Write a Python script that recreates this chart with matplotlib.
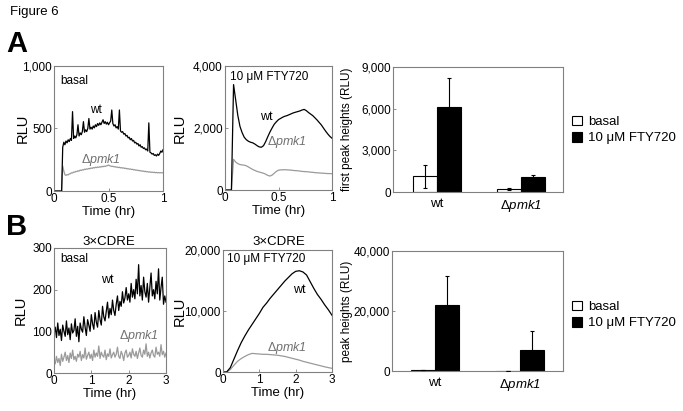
import numpy as np
import matplotlib
matplotlib.use("Agg")
import matplotlib.pyplot as plt
from matplotlib.ticker import FuncFormatter

plt.rcParams['font.family'] = ['Liberation Sans', 'DejaVu Sans']
plt.rcParams['mathtext.fontset'] = 'custom'
plt.rcParams['mathtext.rm'] = 'Liberation Sans'
plt.rcParams['mathtext.it'] = 'Liberation Sans:italic'
plt.rcParams['mathtext.sf'] = 'Liberation Sans:italic'
plt.rcParams['mathtext.default'] = 'regular'

# ---------------- data ----------------
# Panel A basal: time (hr), 0..1 step 0.01
t_a1 = [round(i * 0.01, 2) for i in range(101)]
a_basal_wt = [0, 0, 0, 0, 0, 0, 0, 0, 350, 390,
              370, 400, 385, 410, 395, 420, 405, 635, 420, 440,
              425, 450, 530, 440, 465, 450, 475, 555, 470, 490,
              475, 500, 580, 495, 510, 495, 520, 505, 530, 515,
              540, 525, 545, 530, 550, 570, 540, 555, 535, 550,
              530, 545, 560, 648, 540, 520, 530, 505, 515, 495,
              648, 480, 470, 475, 455, 460, 440, 445, 425, 430,
              410, 420, 400, 405, 385, 390, 375, 380, 360, 370,
              350, 355, 340, 345, 330, 335, 320, 545, 310, 305,
              295, 300, 285, 290, 280, 295, 285, 300, 320, 310,
              330]
a_basal_pmk1 = [0, 0, 0, 0, 0, 0, 0, 0, 200, 160,
                130, 125, 131, 129, 137, 138, 146, 144, 152, 150,
                157, 155, 162, 159, 167, 164, 170, 168, 175, 172,
                177, 175, 181, 178, 184, 181, 187, 184, 190, 187,
                192, 189, 194, 191, 197, 194, 199, 196, 201, 203,
                208, 202, 200, 196, 198, 193, 195, 190, 192, 187,
                190, 185, 187, 183, 185, 180, 182, 177, 179, 175,
                176, 172, 174, 169, 171, 166, 168, 163, 165, 161,
                162, 158, 160, 155, 158, 153, 155, 151, 153, 149,
                151, 148, 150, 146, 149, 145, 148, 145, 147, 145,
                147]

# Panel A FTY720: time 0..1 step 0.02
t_a2 = [round(i * 0.02, 2) for i in range(51)]
a_fty_wt = [0, 0, 0, 0, 3400, 2900, 2400, 2050, 1850, 1700, 1620, 1570, 1540, 1520, 1480, 1430, 1390, 1380, 1430, 1560,
            1720, 1870, 2000, 2120, 2200, 2270, 2310, 2350, 2380, 2400, 2430, 2460, 2490, 2510, 2530, 2550, 2580, 2600, 2560, 2500,
            2450, 2400, 2330, 2260, 2180, 2100, 2000, 1900, 1810, 1730, 1670]
a_fty_pmk1 = [0, 0, 0, 0, 990, 900, 850, 820, 810, 800, 780, 740, 700, 660, 630, 600, 580, 560, 540, 510,
              470, 450, 480, 540, 600, 640, 650, 650, 655, 650, 645, 640, 630, 625, 620, 610, 600, 595, 590, 585,
              575, 570, 560, 555, 550, 545, 540, 535, 530, 530, 525]

# Panel B basal: time 0..3 step 1/30
t_b1 = [i / 30 for i in range(91)]
b_basal_wt = [95, 110, 85, 120, 90, 105, 78, 115, 100, 88, 125, 92, 108, 80, 118, 96, 102, 130, 88, 112,
              75, 120, 105, 98, 135, 110, 90, 128, 115, 100, 140, 118, 105, 145, 122, 110, 150, 128, 115, 160,
              135, 125, 148, 170, 132, 155, 140, 175, 150, 138, 165, 185, 150, 172, 160, 195, 168, 180, 205, 175,
              190, 170, 215, 182, 200, 178, 225, 190, 260, 185, 210, 175, 230, 195, 182, 215, 170, 205, 240, 185,
              200, 178, 220, 190, 250, 175, 205, 230, 165, 185, 170]
b_basal_pmk1 = [30, 22, 40, 25, 35, 18, 45, 28, 38, 50, 30, 42, 25, 48, 35, 55, 32, 40, 28, 45,
                38, 52, 30, 44, 36, 60, 33, 42, 50, 35, 45, 30, 55, 38, 48, 40, 65, 35, 50, 42,
                38, 55, 32, 46, 40, 58, 36, 44, 50, 38, 45, 62, 40, 35, 52, 44, 30, 48, 55, 38,
                42, 50, 36, 58, 45, 40, 52, 35, 48, 60, 42, 38, 55, 45, 70, 40, 50, 36, 48, 55,
                42, 38, 62, 45, 50, 40, 68, 44, 52, 38, 48]

# Panel B FTY720: time 0..3 step 0.1
t_b2 = [round(i * 0.1, 1) for i in range(31)]
b_fty_wt = [0, 0, 700, 2100, 3500, 4800, 5900, 6900, 7800, 8700, 9600, 10600, 11300, 12100, 12800, 13500,
            14200, 14900, 15500, 16100, 16500, 16600, 16400, 15900, 14800, 13700, 12700, 11900, 11000, 10200, 9300]
b_fty_pmk1 = [0, 0, 400, 1100, 1750, 2200, 2550, 2850, 3050, 3000, 2950, 2900, 2900, 2850, 2800, 2750,
              2650, 2550, 2400, 2250, 2100, 1950, 1750, 1600, 1450, 1300, 1150, 1000, 850, 720, 600]

# bar panels
strains = ['wt', r'$\Delta\mathsf{pmk1}$']
a_bar_basal = [1120, 220]
a_bar_basal_err = [800, 60]
a_bar_fty = [6130, 1080]
a_bar_fty_err = [2070, 120]
b_bar_basal = [300, 100]
b_bar_basal_err = [100, 30]
b_bar_fty = [22000, 7100]
b_bar_fty_err = [9800, 6200]

PMK = r'$\Delta\mathsf{pmk1}$'

# ---------------- layout ----------------
W, H = 683, 411
fig = plt.figure(figsize=(W / 100, H / 100), dpi=100)
GRAY = '#808080'
LGRAY = '#9a9a9a'


def add_ax(x0, y0, x1, y1):
    return fig.add_axes([x0 / W, 1 - y1 / H, (x1 - x0) / W, (y1 - y0) / H])


def comma(v, p):
    if float(v).is_integer():
        return f"{int(v):,}"
    return f"{v:g}"


def style(ax):
    for s in ax.spines.values():
        s.set_color(GRAY)
        s.set_linewidth(0.8)
    ax.tick_params(direction='in', length=2, width=0.6, color=GRAY, labelsize=8.5, pad=1.5)
    ax.yaxis.set_major_formatter(FuncFormatter(comma))
    ax.xaxis.set_major_formatter(FuncFormatter(comma))


def ts_panel(ax, t, wt, pmk, xmax, ymax, yticks, xticks, ylx):
    ax.plot(t, pmk, color=LGRAY, lw=0.9)
    ax.plot(t, wt, color='black', lw=0.9)
    ax.set_xlim(0, xmax)
    ax.set_ylim(0, ymax)
    ax.set_xticks(xticks)
    ax.set_yticks(yticks)
    style(ax)
    ax.set_ylabel('RLU', fontsize=10.5)
    ax.yaxis.set_label_coords(ylx, 0.5)
    ax.set_xlabel('Time (hr)', fontsize=9.5, labelpad=1)


# A1
ax = add_ax(54, 66, 163, 191)
ts_panel(ax, t_a1, a_basal_wt, a_basal_pmk1, 1, 1000, [0, 500, 1000], [0, 0.5, 1], -0.22)
ax.text(0.055, 0.93, 'basal', transform=ax.transAxes, fontsize=8.5, va='top', ha='left')
ax.text(0.38, 0.65, 'wt', transform=ax.transAxes, fontsize=8.5, va='center', ha='center')
ax.text(0.43, 0.25, PMK, transform=ax.transAxes, fontsize=9, va='center', ha='center', color='#707070')

# A2
ax = add_ax(225, 66, 332, 190)
ts_panel(ax, t_a2, a_fty_wt, a_fty_pmk1, 1, 4000, [0, 2000, 4000], [0, 0.5, 1], -0.355)
ax.text(0.045, 0.96, '10 μM FTY720', transform=ax.transAxes, fontsize=8.5, va='top', ha='left')
ax.text(0.39, 0.59, 'wt', transform=ax.transAxes, fontsize=9, va='center', ha='center')
ax.text(0.58, 0.39, PMK, transform=ax.transAxes, fontsize=9, va='center', ha='center', color='#707070')

# B1
ax = add_ax(54, 248, 166, 373)
ts_panel(ax, t_b1, b_basal_wt, b_basal_pmk1, 3, 300, [0, 100, 200, 300], [0, 1, 2, 3], -0.232)
ax.text(0.055, 0.96, 'basal', transform=ax.transAxes, fontsize=8.5, va='top', ha='left')
ax.text(0.48, 0.745, 'wt', transform=ax.transAxes, fontsize=9, va='center', ha='center')
ax.text(0.76, 0.30, PMK, transform=ax.transAxes, fontsize=9, va='center', ha='center', color='#707070')

# B2
ax = add_ax(223, 250, 332, 372)
ts_panel(ax, t_b2, b_fty_wt, b_fty_pmk1, 3, 20000, [0, 10000, 20000], [0, 1, 2, 3], -0.33)
ax.text(0.04, 0.975, '10 μM FTY720', transform=ax.transAxes, fontsize=8.5, va='top', ha='left')
ax.text(0.70, 0.67, 'wt', transform=ax.transAxes, fontsize=9, va='center', ha='center')
ax.text(0.59, 0.20, PMK, transform=ax.transAxes, fontsize=9, va='center', ha='center', color='#707070')


def bar_panel(box, basal, basal_err, fty, fty_err, ymax, yticks, xlim, ylabel, ylx, leg_y):
    ax = add_ax(*box)
    x = np.arange(len(strains))
    w = 0.287
    b1 = ax.bar(x - w / 2, basal, w, color='white', edgecolor='black', lw=0.8, label='basal')
    b2 = ax.bar(x + w / 2, fty, w, color='black', edgecolor='black', lw=0.8, label='10 μM FTY720')
    ax.errorbar(x - w / 2, basal, yerr=basal_err, fmt='none', ecolor='black', elinewidth=0.8, capsize=1.5, capthick=0.8, zorder=5)
    ax.errorbar(x + w / 2, fty, yerr=fty_err, fmt='none', ecolor='black', elinewidth=0.8, capsize=1.5, capthick=0.8, zorder=5)
    ax.set_xlim(*xlim)
    ax.set_ylim(0, ymax)
    ax.set_yticks(yticks)
    ax.set_xticks(x)
    style(ax)
    ax.set_xticklabels(strains, fontsize=9.5)
    ax.tick_params(axis='x', length=0, pad=4)
    ax.set_ylabel(ylabel, fontsize=8.5)
    ax.yaxis.set_label_coords(ylx, 0.5)
    fig.legend(handles=[b1, b2], labels=['basal', '10 μM FTY720'], loc='center left',
               bbox_to_anchor=(572 / W, 1 - leg_y / H), frameon=False, fontsize=9.5,
               handlelength=0.75, handleheight=0.75, handletextpad=0.5, labelspacing=0.3,
               borderpad=0, borderaxespad=0)
    return ax


bar_panel((393, 67, 563, 192), a_bar_basal, a_bar_basal_err, a_bar_fty, a_bar_fty_err,
          9000, [0, 3000, 6000, 9000], (-0.524, 1.5), 'first peak heights (RLU)', -0.235, 130)
bar_panel((392, 251, 563, 371), b_bar_basal, b_bar_basal_err, b_bar_fty, b_bar_fty_err,
          40000, [0, 20000, 40000], (-0.505, 1.507), 'peak heights (RLU)', -0.228, 315)

# figure texts
fig.text(10 / W, 1 - 12 / H, 'Figure 6', fontsize=9.5, va='center', ha='left')
fig.text(6 / W, 1 - 44 / H, 'A', fontsize=21, fontweight='bold', va='center', ha='left')
fig.text(6 / W, 1 - 227 / H, 'B', fontsize=21, fontweight='bold', va='center', ha='left')
fig.text(109 / W, 1 - 242 / H, '3×CDRE', fontsize=9.5, va='center', ha='center')
fig.text(279 / W, 1 - 242 / H, '3×CDRE', fontsize=9.5, va='center', ha='center')

fig.savefig('out.png', dpi=100)
